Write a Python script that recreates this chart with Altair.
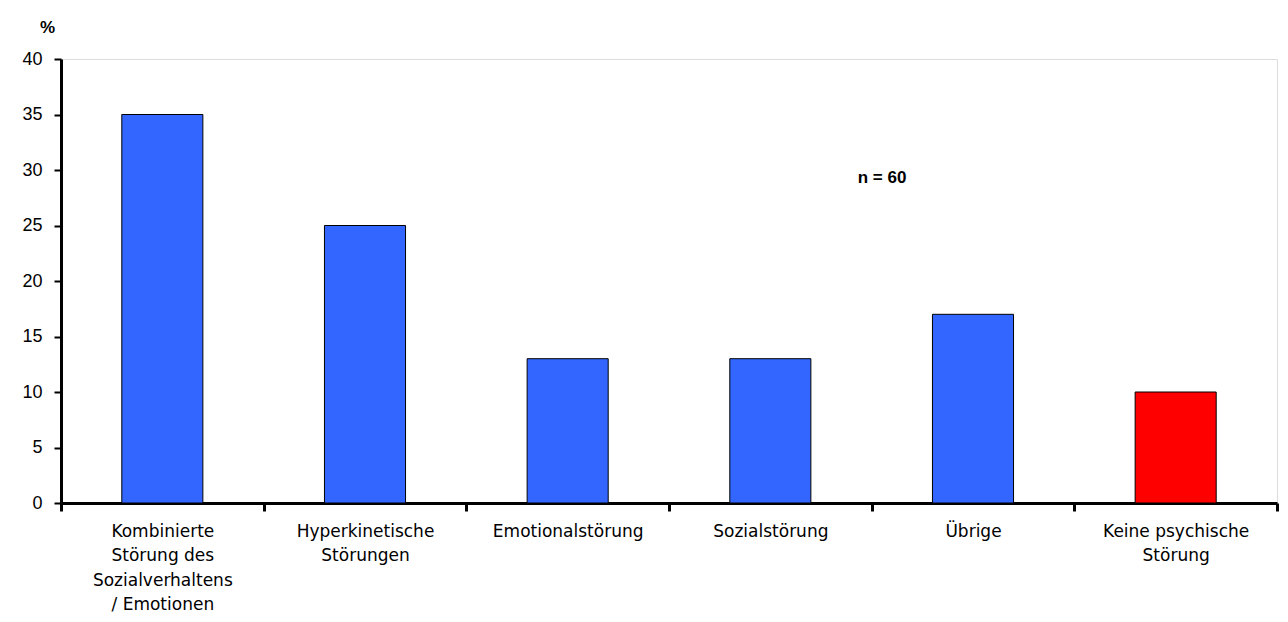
import altair as alt
import pandas as pd

categories = [
    "Kombinierte|Störung des|Sozialverhaltens|/ Emotionen",
    "Hyperkinetische|Störungen",
    "Emotionalstörung",
    "Sozialstörung",
    "Übrige",
    "Keine psychische|Störung",
]
values = [35, 25, 13, 13, 17, 10]
colors = ["#3366FF", "#3366FF", "#3366FF", "#3366FF", "#3366FF", "#FF0000"]

df = pd.DataFrame({"cat": categories, "val": values, "color": colors})

FONT = "Liberation Sans"

bars = alt.Chart(df).mark_bar(
    stroke="black", strokeWidth=1, width=alt.RelativeBandSize(0.4)
).encode(
    x=alt.X(
        "cat:N",
        sort=categories,
        scale=alt.Scale(paddingInner=0, paddingOuter=0),
        axis=alt.Axis(
            title=None,
            labelAngle=0,
            labelExpr="datum.value ? split(datum.value, '|') : ''",
            labelFont="DejaVu Sans",
            labelFontSize=17,
            labelColor="black",
            labelPadding=12,
            labelLineHeight=24.5,
            labelBaseline="top",
            tickBand="extent",
            tickSize=8,
            tickWidth=3,
            tickColor="black",
            domainColor="black",
            domainWidth=3,
            grid=False,
        ),
    ),
    y=alt.Y(
        "val:Q",
        scale=alt.Scale(domain=[0, 40]),
        axis=alt.Axis(
            values=[0, 5, 10, 15, 20, 25, 30, 35, 40],
            title="%",
            titleAngle=0,
            titleX=-14,
            titleY=-32,
            titleAlign="center",
            titleBaseline="middle",
            titleFont=FONT,
            titleFontSize=17,
            titleFontWeight="bold",
            labelFont=FONT,
            labelFontSize=18,
            labelColor="black",
            labelPadding=12,
            tickSize=7,
            tickWidth=2,
            tickColor="black",
            domainColor="black",
            domainWidth=3,
            grid=False,
        ),
    ),
    color=alt.Color("color:N", scale=None),
)

note = alt.Chart(pd.DataFrame({"t": ["n = 60"]})).mark_text(
    font=FONT, fontSize=17, fontWeight="bold", align="center", baseline="middle", color="black"
).encode(text="t:N", x=alt.value(821), y=alt.value(119))

chart = (
    alt.layer(bars, note)
    .properties(
        width=1216,
        height=444,
        autosize=alt.AutoSizeParams(type="none"),
        padding={"left": 53, "top": 51, "right": 2, "bottom": 110},
    )
    .configure_view(stroke=None)
    .configure(background="white")
)

chart.save("out.html", embed_options={"renderer": "svg", "actions": False})
